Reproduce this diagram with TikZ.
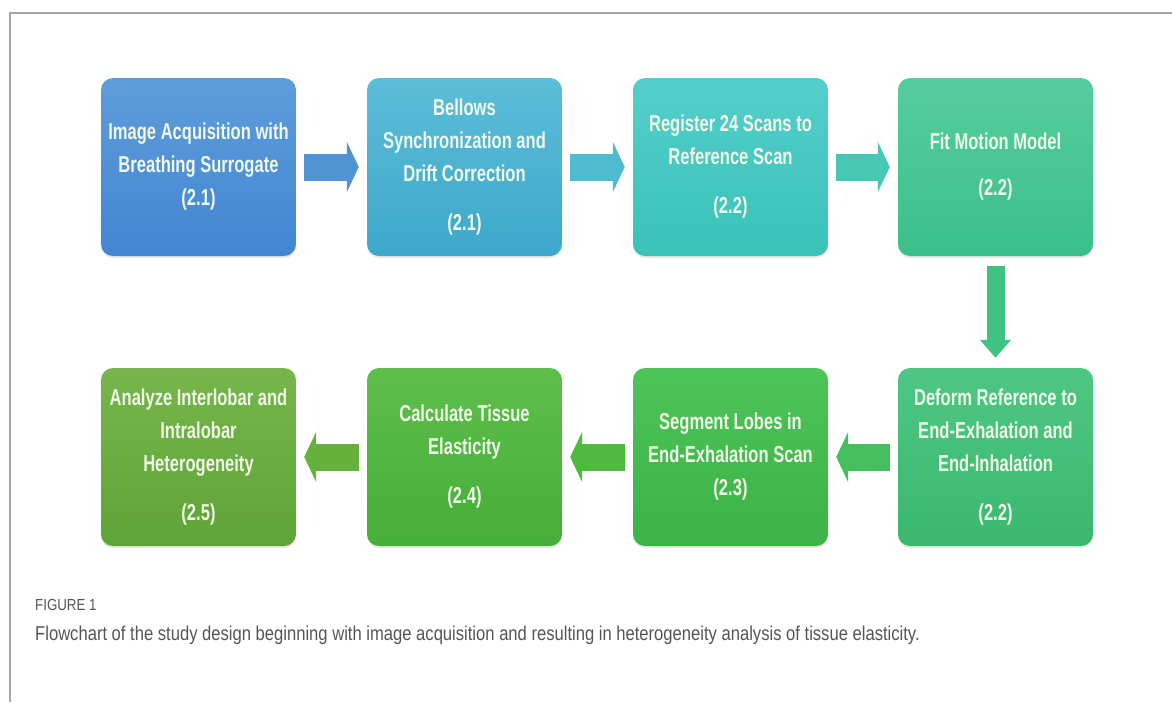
\documentclass[tikz,border=0pt]{standalone}
\usepackage{fontspec}
\usetikzlibrary{arrows.meta,positioning,shadows}
\newfontfamily\boxfont[FakeStretch=0.72]{Liberation Sans}
\newfontfamily\capfont[FakeStretch=0.83]{Liberation Sans}

\definecolor{acqtop}{RGB}{94,157,219}\definecolor{acqbot}{RGB}{66,134,209}
\definecolor{synctop}{RGB}{92,189,216}\definecolor{syncbot}{RGB}{60,168,202}
\definecolor{regtop}{RGB}{84,206,204}\definecolor{regbot}{RGB}{58,194,184}
\definecolor{fittop}{RGB}{86,205,160}\definecolor{fitbot}{RGB}{59,191,138}
\definecolor{deftop}{RGB}{78,198,132}\definecolor{defbot}{RGB}{58,184,110}
\definecolor{segtop}{RGB}{78,195,88}\definecolor{segbot}{RGB}{59,179,70}
\definecolor{caltop}{RGB}{94,190,76}\definecolor{calbot}{RGB}{69,174,56}
\definecolor{anatop}{RGB}{118,182,76}\definecolor{anabot}{RGB}{95,164,54}
\definecolor{boxtext}{RGB}{240,248,232}
\definecolor{captext}{RGB}{85,85,85}

\begin{document}
\begin{tikzpicture}[x=1pt,y=-1pt,
  stepbox/.style={rounded corners=12pt,minimum width=195pt,minimum height=178pt,
    inner sep=2pt,align=center,text=boxtext,
    font=\boxfont\bfseries\fontsize{23}{33}\selectfont,
    drop shadow={opacity=0.18,shadow xshift=0pt,shadow yshift=-2pt}},
  harrow/.style={line width=27pt,-{Triangle[width=50pt,length=12pt]},
    shorten <=8pt,shorten >=8pt},
  varrow/.style={line width=18pt,-{Triangle[width=30pt,length=18pt]},
    shorten <=10pt,shorten >=10pt}]
  \useasboundingbox (0,0) rectangle (1172,702);

  % Frame
  \draw[line width=1.6pt,color=black!35] (1172,13) -- (10,13) -- (10,702);

  % Top row
  \node[stepbox,top color=acqtop,bottom color=acqbot] (acq) at (198.5,167)
    {Image Acquisition with\\Breathing Surrogate\\(2.1)};
  \node[stepbox,top color=synctop,bottom color=syncbot] (sync) at (464.5,167)
    {Bellows\\Synchronization and\\Drift Correction\\[16pt](2.1)};
  \node[stepbox,top color=regtop,bottom color=regbot] (reg) at (730.5,167)
    {Register 24 Scans to\\Reference Scan\\[16pt](2.2)};
  \node[stepbox,top color=fittop,bottom color=fitbot] (fit) at (995.5,167)
    {Fit Motion Model\\[13pt](2.2)};

  % Bottom row
  \node[stepbox,top color=deftop,bottom color=defbot] (deform) at (995.5,457)
    {Deform Reference to\\End-Exhalation and\\End-Inhalation\\[16pt](2.2)};
  \node[stepbox,top color=segtop,bottom color=segbot] (segment) at (730.5,457)
    {Segment Lobes in\\End-Exhalation Scan\\(2.3)};
  \node[stepbox,top color=caltop,bottom color=calbot] (calc) at (464.5,457)
    {Calculate Tissue\\Elasticity\\[16pt](2.4)};
  \node[stepbox,top color=anatop,bottom color=anabot] (analyze) at (198.5,457)
    {Analyze Interlobar and\\Intralobar\\Heterogeneity\\[16pt](2.5)};

  % Arrows
  \draw[harrow,color={rgb,255:red,80;green,148;blue,214}] (acq) -- (sync);
  \draw[harrow,color={rgb,255:red,78;green,187;blue,208}] (sync) -- (reg);
  \draw[harrow,color={rgb,255:red,72;green,199;blue,181}] (reg) -- (fit);
  \draw[varrow,color={rgb,255:red,62;green,195;blue,131}] (fit) -- (deform);
  \draw[harrow,color={rgb,255:red,69;green,190;blue,94}] (deform) -- (segment);
  \draw[harrow,color={rgb,255:red,79;green,186;blue,62}] (segment) -- (calc);
  \draw[harrow,color={rgb,255:red,102;green,177;blue,60}] (calc) -- (analyze);

  % Caption
  \node[anchor=west,inner sep=0pt,text=captext,font=\capfont\fontsize{16}{19}\selectfont]
    (figno) at (35,605) {FIGURE 1};
  \node[anchor=west,inner sep=0pt,text=captext,font=\capfont\fontsize{20}{24}\selectfont]
    (caption) at (35,635) {Flowchart of the study design beginning with image acquisition and resulting in heterogeneity analysis of tissue elasticity.};
\end{tikzpicture}
\end{document}
